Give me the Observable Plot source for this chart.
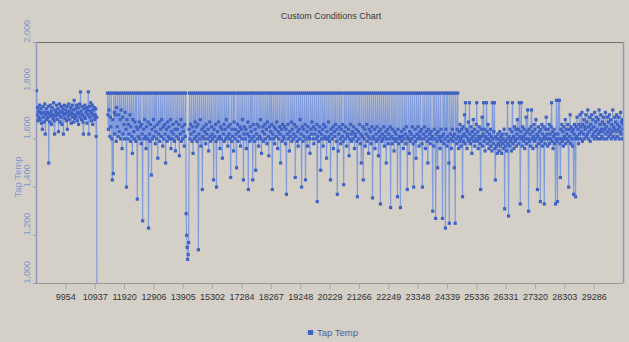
<!DOCTYPE html>
<html>
<head>
<meta charset="utf-8">
<script src="https://cdn.jsdelivr.net/npm/d3@7"></script>
<script src="https://cdn.jsdelivr.net/npm/@observablehq/plot@0.6"></script>
<style>
  html, body { margin: 0; padding: 0; background: #d4d0c8; }
  #wrap { position: relative; width: 629px; height: 342px; overflow: hidden; background: #d4d0c8;
          font-family: "Liberation Sans Narrow", "Liberation Sans", Arial, sans-serif; }
  #title { position: absolute; top: 11px; left: 0; width: 662px; text-align: center; font-size: 9px; color: #3a3a3a; }
  #legend { position: absolute; top: 327px; left: 306px; font-size: 9.5px; color: #4a5f9a; display: flex; align-items: center; }
  #legend .sw { position: relative; width: 9px; height: 9px; margin-right: 2px; }
  #legend .sw .ln { position: absolute; left: 0; top: 4px; width: 9px; height: 1px; background: #8ea6dc; }
  #legend .sw .mk { position: absolute; left: 2px; top: 2px; width: 5px; height: 5px; background: #3f63c2; }
  #ylab { position: absolute; left: 9px; top: 177px; transform: translate(-50%, -50%) rotate(-90deg); transform-origin: center;
          font-size: 9.5px; color: #8096cc; white-space: nowrap; margin-left: 8px; }
</style>
</head>
<body>
<div id="wrap">
  <div id="title"></div>
  <div id="ylab"></div>
  <div id="chart"></div>
  <div id="legend"><div class="sw"><div class="ln"></div><div class="mk"></div></div><span id="legtxt"></span></div>
</div>
<script>
const seriesName = "Tap Temp";
const chartTitle = "Custom Conditions Chart";
const pointsPerTick = 60;
const tickLabels = ["9954","10937","11920","12906","13905","15302","17284","18267","19248","20229",
                    "21266","22249","23348","24339","25336","26331","27320","28303","29286"];
const yTicks = [1000, 1200, 1400, 1600, 1800, 2000];

// Tap temperature readings, one per sampled heat (null = no reading)
const segmentA = [
  1800,1700,1730,1675,1715,1690,1740,1680,1710,1725,1665,1705,1640,1735,1690,1710,1670,1745,1620,1700,
  1725,1680,1710,1690,1735,1500,1705,1670,1740,1695,1715,1660,1730,1700,1685,1750,1675,1620,1720,1695,
  1710,1740,1680,1705,1725,1630,1700,1745,1670,1715,1690,1735,1660,1710,1725,1620,1700,1740,1685,1705,
  1720,1675,1735,1640,1710,1695,1745,1680,1715,1700,1730,1665,1705,1740,1690,1720,1670,1760,1700,1685,
  1725,1695,1740,1675,1710,1730,1660,1705,1745,1690,1795,1715,1680,1735,1700,1670,1620,1725,1690,1740,
  1685,1710,1730,1665,1720,1700,1795,1620,1735,1690,1715,1750,1675,1705,1740,1660,1720,1695,1730,1680,
  1700,1725,1610,1690,0];
const gap = [null,null,null,null,null,null,null,null,null,null,null,null,null,null,null,null,null,null,null,null];
const segmentB = [
  1790,1700,1640,1720,1790,1610,1690,1650,1790,1600,1430,1680,1456,1790,1710,1620,1700,1790,1590,1730,
  1650,1790,1610,1700,1630,1790,1680,1600,1720,1790,1560,1690,1620,1790,1660,1600,1710,1790,1640,1400,
  1680,1790,1600,1660,1620,1790,1700,1590,1650,1790,1610,1540,1680,1790,1630,1600,1670,1790,1590,1650,
  1790,1350,1640,1610,1790,1670,1600,1650,1790,1580,1660,1620,1260,1790,1640,1600,1680,1790,1610,1560,
  1650,1790,1600,1670,1230,1790,1620,1590,1660,1790,1450,1640,1600,1790,1680,1610,1650,1790,1580,1630,
  1790,1600,1660,1520,1790,1620,1670,1590,1790,1640,1610,1680,1790,1570,1650,1600,1790,1660,1620,1500,
  1790,1640,1590,1670,1790,1610,1650,1600,1790,1680,1560,1630,1790,1600,1660,1620,1790,1590,1640,1550,
  1790,1670,1610,1640,1790,1600,1660,1530,1790,1620,1680,1590,1790,1650,1600,1630,1790,1570,1660,1610,
  1790,1290,1200,1150,1100,1120,1170,1640,1790,1600,1660,1620,1790,1590,1650,1540,1790,1630,1600,1670,
  1790,1610,1650,1590,1790,1660,1140,1620,1790,1600,1680,1570,1790,1640,1390,1610,1790,1650,1600,1630,
  1790,1580,1660,1620,1790,1600,1640,1550,1790,1670,1610,1590,1790,1650,1620,1600,1790,1430,1640,1610,
  1790,1660,1590,1400,1790,1630,1600,1670,1790,1610,1560,1650,1790,1600,1640,1520,1790,1620,1660,1590,
  1790,1640,1600,1680,1790,1610,1570,1650,1790,1620,1600,1660,1440,1790,1590,1640,1610,1790,1550,1670,
  1790,1600,1640,1620,1480,1790,1660,1590,1630,1790,1610,1650,1570,1790,1640,1600,1680,1790,1430,1620,
  1650,1790,1600,1640,1560,1790,1620,1670,1390,1790,1610,1590,1650,1790,1630,1600,1790,1430,1660,1610,
  1790,1590,1640,1470,1790,1620,1660,1600,1790,1570,1650,1610,1790,1680,1600,1540,1790,1630,1650,1590,
  1790,1620,1660,1600,1790,1640,1580,1670,1790,1610,1530,1650,1790,1600,1630,1790,1660,1390,1620,1790,
  1600,1650,1580,1790,1640,1610,1670,1790,1560,1630,1600,1790,1650,1620,1500,1790,1640,1590,1660,1790,
  1610,1600,1650,1790,1580,1640,1370,1790,1620,1660,1600,1790,1550,1630,1610,1790,1670,1590,1640,1790,
  1600,1620,1660,1790,1440,1610,1650,1790,1590,1630,1570,1790,1640,1600,1680,1790,1620,1400,1650,1790,
  1590,1640,1610,1790,1660,1430,1600,1790,1630,1570,1650,1790,1610,1600,1540,1790,1640,1620,1670,1790,
  1600,1650,1580,1790,1620,1640,1600,1790,1660,1340,1610,1790,1590,1630,1650,1790,1470,1620,1600,1790,
  1640,1570,1660,1790,1610,1600,1650,1790,1520,1630,1600,1790,1670,1610,1590,1790,1430,1640,1620,1790,
  1600,1650,1560,1790,1630,1610,1660,1790,1590,1640,1370,1790,1550,1620,1650,1790,1600,1580,1640,1790,
  1610,1660,1590,1410,1790,1630,1600,1650,1790,1570,1620,1610,1790,1640,1530,1600,1790,1660,1620,1590,
  1790,1630,1600,1650,1790,1560,1620,1610,1790,1640,1590,1360,1790,1630,1600,1660,1790,1580,1620,1500,
  1790,1610,1650,1430,1790,1600,1640,1570,1790,1620,1660,1590,1790,1610,1540,1640,1790,1600,1630,1580,
  1790,1650,1355,1610,1790,1600,1640,1560,1790,1620,1590,1650,1790,1600,1530,1630,1790,1610,1330,1640,
  1790,1590,1620,1600,1790,1650,1570,1610,1790,1630,1500,1600,1790,1640,1580,1620,1790,1600,1650,1315,
  1790,1610,1580,1640,1790,1600,1550,1630,1790,1590,1620,1600,1790,1360,1640,1580,1790,1610,1600,1315,
  1790,1630,1590,1610,1790,1560,1640,1600,1790,1620,1580,1650,1790,1390,1610,1600,1790,1540,1630,1590,
  1790,1620,1600,1650,1790,1580,1400,1610,1790,1640,1590,1520,1790,1620,1600,1650,1790,1570,1610,1630,
  1790,1600,1640,1580,1400,1790,1620,1600,1650,1790,1560,1610,1630,1790,1590,1500,1640,1790,1600,1620,
  1580,1790,1630,1600,1610,1300,1790,1570,1640,1790,1600,1270,1620,1790,1590,1480,1630,1790,1610,1600,
  1560,1790,1640,1590,1610,1270,1790,1620,1580,1790,1600,1230,1640,1790,1570,1610,1790,1590,1500,1250,
  1790,1620,1600,1560,1790,1640,1590,1610,1790,1480,1620,1250,1790,1600,1580,1640,1790,1610,1560,1630,
  1590,1660,1600,1570,1640,1610,1360,1650,1590,1620,1700,1580,1750,1610,1640,1560,1630,1600,1670,1590,
  1750,1620,1580,1650,1600,1540,1630,1610,1680,1590,1640,1570,1620,1600,1660,1750,1590,1630,1560,1610,
  1650,1600,1580,1390,1640,1610,1690,1570,1620,1750,1590,1640,1550,1610,1600,1750,1630,1580,1660,1600,
  1560,1620,1590,1640,1570,1610,1550,1750,1600,1580,1630,1750,1560,1430,1610,1570,1600,1540,1620,1580,
  1600,1550,1630,1570,1590,1610,1540,1620,1580,1600,1560,1640,1310,1590,1570,1620,1550,1600,1750,1580,
  1280,1610,1570,1640,1590,1600,1550,1630,1750,1580,1610,1560,1650,1600,1590,1640,1570,1620,1680,1600,
  1640,1580,1750,1610,1330,1630,1750,1600,1570,1650,1610,1590,1640,1560,1620,1600,1690,1580,1630,1720,
  1600,1300,1640,1590,1620,1570,1650,1720,1600,1630,1560,1610,1660,1590,1640,1600,1680,1570,1620,1390,
  1610,1650,1580,1630,1600,1340,1640,1590,1660,1570,1620,1600,1650,1330,1610,1580,1640,1690,1600,1620,
  1570,1640,1600,1660,1580,1620,1600,1650,1750,1590,1630,1560,1610,1640,1580,1620,1330,1600,1760,1590,
  1340,1620,1760,1600,1760,1580,1440,1640,1600,1660,1590,1630,1570,1650,1610,1600,1680,1580,1640,1620,
  1600,1660,1590,1400,1640,1610,1700,1580,1650,1600,1630,1570,1640,1370,1620,1660,1600,1360,1650,1610,
  1690,1600,1640,1580,1660,1620,1700,1600,1650,1630,1710,1590,1660,1620,1680,1600,1650,1640,1700,1610,
  1670,1620,1720,1600,1650,1630,1690,1590,1660,1640,1700,1610,1680,1620,1650,1600,1710,1630,1670,1610,
  1690,1640,1600,1680,1620,1720,1630,1660,1600,1700,1640,1610,1670,1630,1690,1600,1660,1640,1710,1620,
  1650,1600,1690,1630,1670,1610,1700,1640,1620,1680,1600,1660,1630,1720,1610,1650,1640,1690,1600,1670,
  1630,1700,1610,1660,1640,1690,1600,1650,1630,1710,1620,1670,1600,1680,1640,1660];
const tapTemp = [...segmentA, ...gap, ...segmentB];

const rows = tapTemp.map((v, i) => ({ i, v }));
const xMax = pointsPerTick * (tickLabels.length + 1);
const tickIdx = tickLabels.map((_, k) => (k + 1) * pointsPerTick);

document.getElementById("title").textContent = chartTitle;
document.getElementById("ylab").textContent = seriesName;
document.getElementById("legtxt").textContent = seriesName;

const chart = Plot.plot({
  width: 629,
  height: 342,
  marginLeft: 36,
  marginRight: 6,
  marginTop: 42,
  marginBottom: 59,
  style: { background: "transparent", fontFamily: "'Liberation Sans Narrow', 'Liberation Sans', Arial, sans-serif" },
  x: { domain: [0, xMax], axis: null },
  y: { domain: [1000, 2000], axis: null },
  marks: [
    Plot.ruleY([2000], { stroke: "#6e6e6e", strokeWidth: 1 }),
    Plot.ruleY([1000], { stroke: "#9a9a9a", strokeWidth: 1 }),
    Plot.ruleX([0, xMax], { stroke: "#8f9ac0", strokeWidth: 1.5 }),
    Plot.axisX({ ticks: tickIdx, tickFormat: (d) => tickLabels[Math.round(d / pointsPerTick) - 1], label: null,
                 tickSize: 6, tickPadding: 4, fontSize: 9, stroke: "#a8a8a8", color: "#333" }),
    Plot.axisY({ ticks: yTicks, tickSize: 3, tickFormat: () => "", label: null, stroke: "#8f9ac0" }),
    Plot.text(yTicks, { y: (d) => d, frameAnchor: "left", dx: -9, rotate: -90,
                        text: (d) => d3.format(",")(d), fontSize: 9, fill: "#8096cc" }),
    Plot.lineY(rows, { x: "i", y: "v", stroke: "#819cdc", strokeWidth: 1.2, clip: true }),
    Plot.dot(rows.filter((d) => d.v != null), { x: "i", y: "v", symbol: "square", r: 1.8,
                                                fill: "#4062c2", stroke: "none", clip: true })
  ]
});
document.getElementById("chart").appendChild(chart);
</script>
</body>
</html>
